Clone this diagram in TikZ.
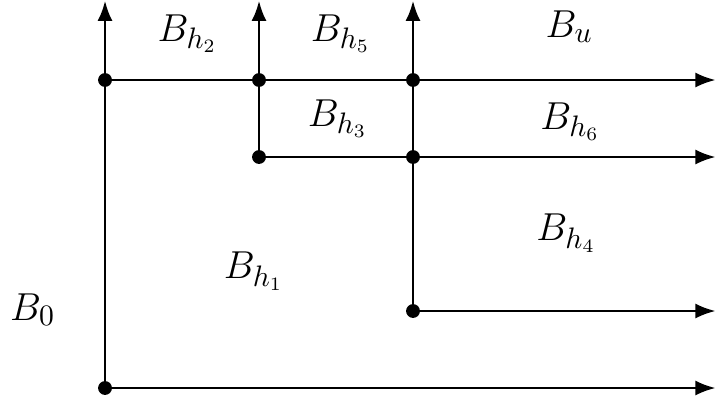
\documentclass[tikz,border=0pt]{standalone}
\usetikzlibrary{arrows.meta}
\begin{document}
\begin{tikzpicture}[line width=1pt,
    flow/.style={-{Latex[length=7.5pt,width=5.6pt]}},
    label/.style={anchor=base, inner sep=0pt, font=\fontsize{15}{18}\selectfont}]

        \useasboundingbox (-1.364,-0.104) rectangle (7.935,5.039);

        \coordinate (O) at (0,0);
        \coordinate (a) at (0,4);
        \coordinate (b) at (2,4);
        \coordinate (c) at (4,4);
        \coordinate (d) at (2,3);
        \coordinate (e) at (4,3);
        \coordinate (f) at (4,1);
        \coordinate (t1) at (O|-0,5.03);
        \coordinate (t2) at (d|-0,5.03);
        \coordinate (t3) at (f|-0,5.03);
        \coordinate (r1) at (7.93,0|-a);
        \coordinate (r2) at (7.93,0|-d);
        \coordinate (r3) at (7.93,0|-f);
        \coordinate (r4) at (7.93,0|-O);

        \draw[flow] (O)--(t1);
        \draw[flow] (d)--(t2);
        \draw[flow] (f)--(t3);
        \draw[flow] (a)--(r1);
        \draw[flow] (d)--(r2);
        \draw[flow] (f)--(r3);
        \draw[flow] (O)--(r4);

        \foreach \p in {O,a,b,c,d,e,f}
            \fill (\p) circle[radius=0.09];

        \node[label] (h2) at (1.07,4.506) {$B_{h_2}$};
        \node[label] (h5) at (3.06,4.506) {$B_{h_5}$};
        \node[label] (u) at (6.03,4.558) {$B_u$};
        \node[label] (h3) at (3.02,3.40) {$B_{h_3}$};
        \node[label] (h6) at (6.04,3.36) {$B_{h_6}$};
        \node[label] (h4) at (5.99,1.91) {$B_{h_4}$};
        \node[label] (h1) at (1.93,1.416) {$B_{h_1}$};
        \node[label] (B0) at (-0.94,0.883) {$B_0$};

\end{tikzpicture}
\end{document}
